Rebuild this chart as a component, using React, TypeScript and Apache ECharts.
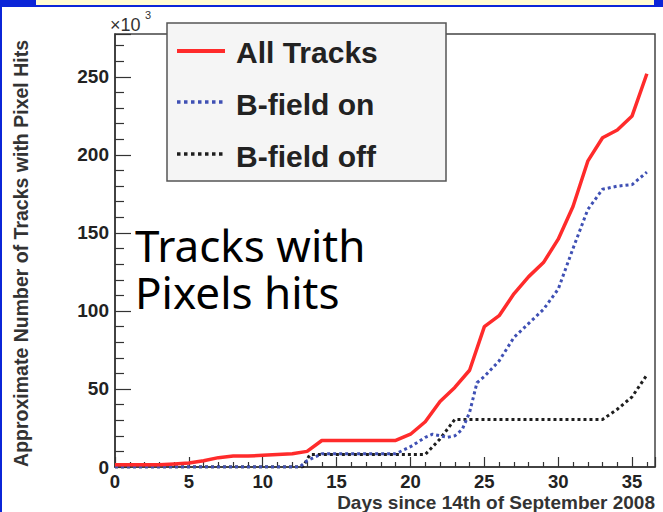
import React, { useEffect, useRef } from "react";
import * as echarts from "echarts";

// ---- data (values in thousands) ----
const allDays = [0, 1, 2, 3, 4, 5, 6, 7, 8, 9, 10, 11, 12, 13, 14, 15, 16, 17, 18, 19, 20, 21, 22, 23, 24, 25, 26, 27, 28, 29, 30, 31, 32, 33, 34, 35, 36];
const allTracks = [1.5, 1.5, 1.5, 1.5, 2, 2.5, 4, 6, 7, 7, 7.5, 8, 8.5, 10, 17, 17, 17, 17, 17, 17, 21, 29, 42, 51, 62, 90, 97, 111, 122, 131, 146, 167, 196, 211, 216, 225, 252];

const bOnDays = [0, 12.5, 13, 14, 19, 20, 21, 21.5, 22.5, 23, 23.5, 24, 24.5, 25, 26, 27, 28, 29, 30, 31, 32, 33, 34, 35, 36];
const bOnValues = [0, 0, 4, 8.5, 8.5, 13, 19, 21, 19, 20, 24, 35, 54, 58, 68, 83, 92, 101, 114, 140, 165, 178, 180, 181, 189];

const bOffDays = [0, 12.7, 13.2, 21, 22, 23, 33, 34, 35, 36];
const bOffValues = [0, 0, 8, 8, 18, 30.5, 30.5, 37, 45, 59];

const legendLabels = ["All Tracks", "B-field on", "B-field off"];
const xTitle = "Days since 14th of September 2008";
const yTitle = "Approximate Number of Tracks with Pixel Hits";
const noteLines = ["Tracks with", "Pixels hits"];

const FONT = "'Liberation Sans', Arial, Helvetica, sans-serif";
const RED = "#ff2b2b";
const BLUE = "#3f50b4";
const BLACK = "#1e1e1e";

export default function App() {
  const ref = useRef<HTMLDivElement>(null);
  useEffect(() => {
    const chart = echarts.init(ref.current!, null, { renderer: "svg" });
    const pairs = (xs: number[], ys: number[]) => xs.map((x, i) => [x, ys[i]]);
    const sampleY = [51, 102, 154];
    const textY = [52, 104, 156];
    const sampleStyles = [
      { stroke: RED, lineWidth: 4 },
      { stroke: BLUE, lineWidth: 3.5, lineDash: [3.5, 3.5] },
      { stroke: BLACK, lineWidth: 3.5, lineDash: [3.5, 3.5] },
    ];
    chart.setOption({
      animation: false,
      backgroundColor: "#ffffff",
      grid: {
        left: 115,
        right: 8,
        top: 34,
        bottom: 45,
        show: true,
        borderColor: "#444",
        borderWidth: 1.5,
        backgroundColor: "transparent",
      },
      xAxis: {
        type: "value",
        min: 0,
        max: 36.55,
        interval: 5,
        axisLine: { show: true, onZero: false, lineStyle: { color: "#333", width: 1.5 } },
        axisTick: { show: true, inside: true, length: 10, lineStyle: { color: "#333", width: 1.2 } },
        minorTick: { show: true, splitNumber: 5, length: 5, lineStyle: { color: "#333", width: 1.2 } },
        axisLabel: {
          showMaxLabel: false,
          margin: 6,
          fontSize: 18.5,
          lineHeight: 16,
          fontWeight: "bold",
          fontFamily: FONT,
          color: "#222",
        },
        splitLine: { show: false },
        minorSplitLine: { show: false },
      },
      yAxis: {
        type: "value",
        min: 0,
        max: 277.5,
        interval: 50,
        axisLine: { show: true, onZero: false, lineStyle: { color: "#333", width: 1.5 } },
        axisTick: { show: true, inside: true, length: 16, lineStyle: { color: "#333", width: 1.2 } },
        minorTick: { show: true, splitNumber: 5, length: 9, lineStyle: { color: "#333", width: 1.2 } },
        axisLabel: {
          showMaxLabel: false,
          margin: 6,
          fontSize: 19,
          fontWeight: "bold",
          fontFamily: FONT,
          color: "#222",
        },
        splitLine: { show: false },
        minorSplitLine: { show: false },
      },
      series: [
        {
          name: legendLabels[2],
          type: "line",
          data: pairs(bOffDays, bOffValues),
          showSymbol: false,
          lineStyle: { color: BLACK, width: 3, type: [3, 3], cap: "butt" },
          z: 2,
        },
        {
          name: legendLabels[1],
          type: "line",
          data: pairs(bOnDays, bOnValues),
          showSymbol: false,
          lineStyle: { color: BLUE, width: 3, type: [3, 3], cap: "butt" },
          z: 3,
        },
        {
          name: legendLabels[0],
          type: "line",
          data: pairs(allDays, allTracks),
          showSymbol: false,
          lineStyle: { color: RED, width: 3.5 },
          z: 4,
        },
      ],
      graphic: {
        elements: [
          // slide decorations
          { type: "rect", shape: { x: 0, y: 0, width: 663, height: 7 }, style: { fill: "#0b25d8" }, z: 100 },
          { type: "rect", shape: { x: 36, y: 0, width: 618, height: 5 }, style: { fill: "#fffbd2" }, z: 101 },
          { type: "rect", shape: { x: 0, y: 0, width: 2, height: 512 }, style: { fill: "#0b25d8" }, z: 100 },
          // exponent
          { type: "text", x: 110, y: 25, style: { text: "×10", fontSize: 18, fontFamily: FONT, fill: "#333", verticalAlign: "middle" }, z: 50 },
          { type: "text", x: 145, y: 15, style: { text: "3", fontSize: 11, fontFamily: FONT, fill: "#333", verticalAlign: "middle" }, z: 50 },
          // y title
          {
            type: "text",
            x: 21,
            y: 40,
            rotation: Math.PI / 2,
            style: { text: yTitle, fontSize: 19.5, fontWeight: "bold", fontFamily: FONT, fill: "#333", align: "right", verticalAlign: "middle" },
            z: 50,
          },
          // x title
          {
            type: "text",
            x: 655,
            y: 502,
            style: { text: xTitle, fontSize: 19, lineHeight: 16, fontWeight: "bold", fontFamily: FONT, fill: "#333", align: "right", verticalAlign: "middle" },
            z: 50,
          },
          // note
          {
            type: "text",
            x: 135,
            y: 221,
            style: {
              text: noteLines.join("\n"),
              fontSize: 44,
              lineHeight: 47,
              fontFamily: "'Noto Sans', sans-serif",
              fill: "#000",
              verticalAlign: "top",
            },
            z: 50,
          },
          // legend
          { type: "rect", shape: { x: 167, y: 23, width: 279, height: 158 }, style: { fill: "#f5f5f5", stroke: "#555", lineWidth: 1.5 }, z: 60 },
          ...legendLabels.map((t, i) => ({
            type: "line",
            shape: { x1: 177, y1: sampleY[i], x2: 225, y2: sampleY[i] },
            style: sampleStyles[i],
            z: 61,
          })),
          ...legendLabels.map((t, i) => ({
            type: "text",
            x: 236,
            y: textY[i],
            style: { text: t, fontSize: 30, fontWeight: "bold", fontFamily: FONT, fill: "#222", verticalAlign: "middle" },
            z: 61,
          })),
        ],
      },
    });
    return () => chart.dispose();
  }, []);
  return <div ref={ref} style={{ position: "fixed", left: 0, top: 0, width: 663, height: 512 }} />;
}
